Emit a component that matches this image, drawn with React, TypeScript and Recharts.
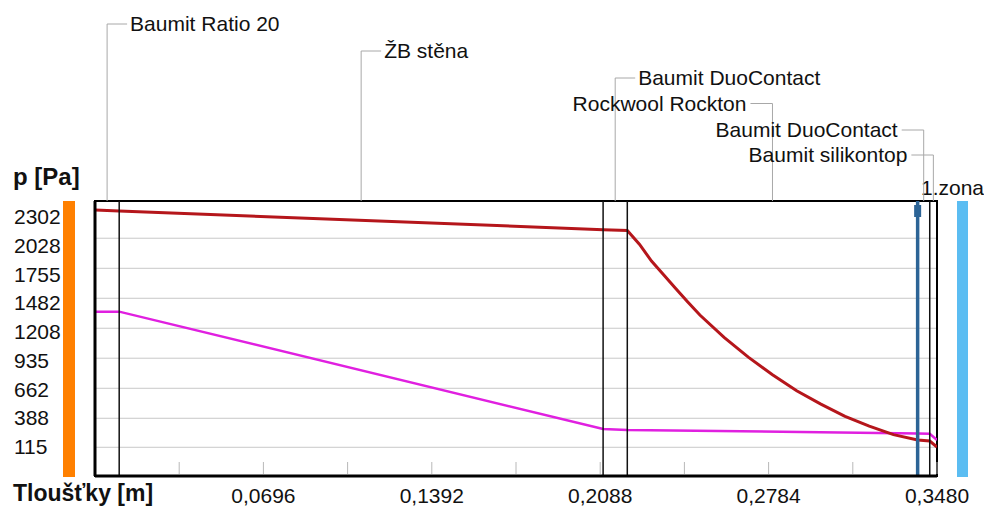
import React from 'react';
import { LineChart, Line, XAxis, YAxis, CartesianGrid, ReferenceLine, ReferenceArea, Customized } from 'recharts';

// rozhraní vrstev konstrukce [m]
const layerEdges = [0, 0.01, 0.21, 0.22, 0.34, 0.345, 0.348];
const layerNames = ['Baumit Ratio 20', 'ŽB stěna', 'Baumit DuoContact', 'Rockwool Rockton', 'Baumit DuoContact', 'Baumit silikontop'];

// nasycený tlak vodní páry [Pa]
const satX = [0, 0.01, 0.21, 0.22, 0.225, 0.23, 0.235, 0.24, 0.245, 0.25, 0.26, 0.27, 0.28, 0.29, 0.3, 0.31, 0.32, 0.33, 0.34, 0.345, 0.348];
const satP = [2366, 2356, 2178, 2171, 2040, 1880, 1750, 1619, 1491, 1367, 1155, 966, 799, 646, 519, 404, 310, 229, 179, 169, 112];

// částečný tlak vodní páry [Pa]
const parX = [0, 0.01, 0.21, 0.22, 0.34, 0.345, 0.348];
const parP = [1399, 1399, 283, 274, 240, 238, 179];

const yTicks = [2302, 2028, 1755, 1482, 1208, 935, 662, 388, 115];
const gridValues = [2097, 1811, 1526, 1241, 956, 670, 385, 109];
const xTicks = [0.0348, 0.0696, 0.1044, 0.1392, 0.174, 0.2088, 0.2436, 0.2784, 0.3132, 0.348];
const xLabels = [0.0696, 0.1392, 0.2088, 0.2784, 0.348];

// hranice kondenzační zóny
const zoneEdge = 0.34;

const satData = satX.map((x, i) => ({ x, p: satP[i] }));
const parData = parX.map((x, i) => ({ x, p: parP[i] }));

// popisky vrstev nad grafem (řádek, strana)
const labelRows = [24, 51, 78, 103.5, 130, 155];
const labelLeft = [false, false, false, true, true, true];

const FONT = "'Liberation Sans', Arial, sans-serif";

const XTick = (props: any) => {
  const { x, y, payload } = props;
  const v = payload.value;
  return (
    <g>
      <line x1={x} x2={x} y1={y - 14} y2={y - 2} stroke="#b8b8b8" />
      {xLabels.includes(v) && (
        <text x={x} y={y + 27} textAnchor="middle" fontSize={21} fill="#111">
          {v.toFixed(4).replace('.', ',')}
        </text>
      )}
    </g>
  );
};

const YTick = (props: any) => (
  <text x={14} y={props.y + 7.5} fontSize={21} fill="#111">{props.payload.value}</text>
);

const leaderShape = (i: number) => (props: any) => {
  const x = props.x1;
  const top = Math.min(props.y1, props.y2);
  const row = labelRows[i];
  const left = labelLeft[i];
  const hx = left ? x - 22 : x + 20;
  return (
    <g>
      <path d={`M${x},${top} V${row} H${hx}`} stroke="#a8a8a8" fill="none" />
      <text
        x={left ? x - 26 : x + 23}
        y={row + 7}
        textAnchor={left ? 'end' : 'start'}
        fontSize={21}
        fill="#111"
      >
        {layerNames[i]}
      </text>
    </g>
  );
};

const zoneShape = (props: any) => {
  const top = Math.min(props.y1, props.y2);
  const bottom = Math.max(props.y1, props.y2);
  return (
    <g>
      <line x1={props.x1} x2={props.x1} y1={top} y2={bottom} stroke="#2c6496" strokeWidth={3.5} />
      <rect x={props.x1 - 3.5} y={top + 4} width={7} height={12} fill="#2c6496" />
    </g>
  );
};

const Decor = () => (
  <g>
    <rect x={63} y={201} width={12} height={276} fill="#ff8000" />
    <rect x={957} y={201} width={11} height={276} fill="#5bbdf2" />
    <text x={13} y={185} fontSize={24} fontWeight="bold" fill="#111">p [Pa]</text>
    <text x={13} y={501} fontSize={23} fontWeight="bold" fill="#111">Tloušťky [m]</text>
    <text x={921} y={195} fontSize={21} fill="#111">1.zona</text>
  </g>
);

export default function App() {
  return (
    <div style={{ position: 'absolute', left: 0, top: 0, width: 984, height: 508, background: '#fff' }}>
      <LineChart
        width={984}
        height={508}
        margin={{ top: 201, right: 47, bottom: 0, left: 0 }}
        style={{ fontFamily: FONT }}
      >
        <CartesianGrid vertical={false} horizontalValues={gridValues} stroke="#c8c8c8" />
        <XAxis
          dataKey="x"
          type="number"
          domain={[0, 0.348]}
          ticks={xTicks}
          interval={0}
          allowDataOverflow
          height={32}
          tickSize={0}
          tickMargin={0}
          tickLine={false}
          axisLine={{ stroke: '#000', strokeWidth: 3 }}
          tick={<XTick />}
        />
        <YAxis
          type="number"
          domain={[-164, 2451]}
          ticks={yTicks}
          interval={0}
          allowDataOverflow
          width={95}
          tickSize={0}
          tickMargin={0}
          tickLine={false}
          axisLine={{ stroke: '#000', strokeWidth: 3 }}
          tick={<YTick />}
        />
        <ReferenceArea x1={0} x2={0.348} fill="none" stroke="#000" strokeWidth={2} fillOpacity={0} />
        <Line data={parData} dataKey="p" type="linear" stroke="#e020e0" strokeWidth={2.5} dot={false} isAnimationActive={false} />
        <Line data={satData} dataKey="p" type="linear" stroke="#b5161b" strokeWidth={3} dot={false} isAnimationActive={false} />
        {layerEdges.slice(1, -1).map((e) => (
          <ReferenceLine key={`edge-${e}`} x={e} stroke="#111" strokeWidth={1.5} />
        ))}
        <ReferenceLine x={zoneEdge} stroke="#2c6496" shape={zoneShape} />
        {layerNames.map((n, i) => (
          <ReferenceLine
            key={`lbl-${i}`}
            x={(layerEdges[i] + layerEdges[i + 1]) / 2}
            stroke="none"
            shape={leaderShape(i)}
          />
        ))}
        <Customized component={<Decor />} />
      </LineChart>
    </div>
  );
}
